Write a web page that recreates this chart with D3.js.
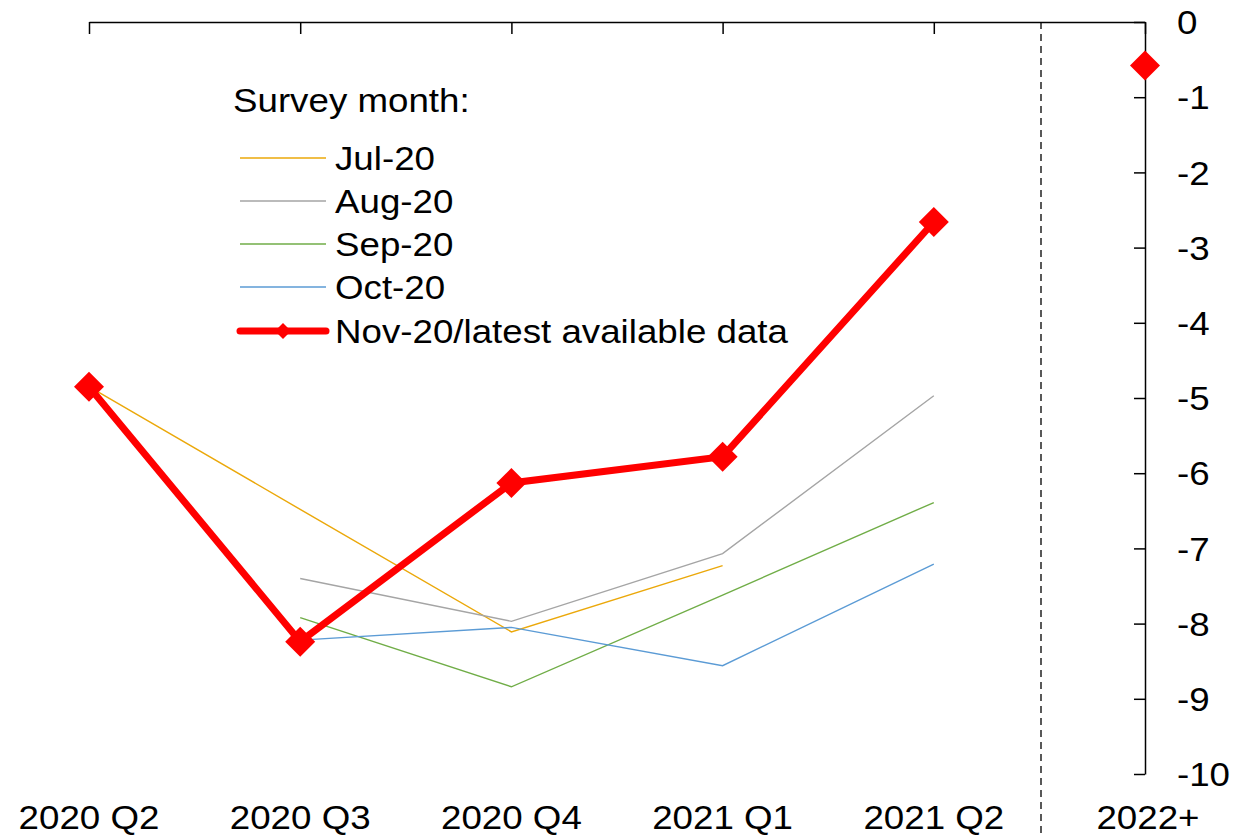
<!DOCTYPE html>
<html><head><meta charset="utf-8">
<script src="https://cdn.jsdelivr.net/npm/d3@7"></script>
<style>
html,body{margin:0;padding:0;background:#fff;}
svg{display:block;font-family:"Liberation Sans",Arial,sans-serif;}
</style></head>
<body>
<svg id="chart" width="1250" height="837"></svg>
<script>
const categories = ["2020 Q2","2020 Q3","2020 Q4","2021 Q1","2021 Q2","2022+"];
const yTicks = [0,-1,-2,-3,-4,-5,-6,-7,-8,-9,-10];
const seriesNames = ["Jul-20","Aug-20","Sep-20","Oct-20","Nov-20/latest available data"];
const jul20 = [-4.85,-6.48,-8.11,-7.23,null,null];
const aug20 = [null,-7.40,-7.97,-7.07,-4.97,null];
const sep20 = [null,-7.92,-8.84,-7.62,-6.39,null];
const oct20 = [null,-8.22,-8.05,-8.56,-7.21,null];
const nov20 = [-4.85,-8.24,-6.13,-5.78,-2.66,null];
const latest2022 = -0.58;
const colors = ["#EBA80A","#A5A5A5","#70AD47","#5B9BD5","#FF0000"];

const SX = 1.13, FS = 32.5;
const svg = d3.select("#chart");
const x = d3.scalePoint().domain(categories).range([89,1145]);
const y = d3.scaleLinear().domain([0,-10]).range([22,774]);

// dashed separator
svg.append("line").attr("x1",1041).attr("x2",1041).attr("y1",y(0)).attr("y2",837)
  .attr("stroke","#000").attr("stroke-width",1.3).attr("stroke-dasharray","7,5");

// top axis (ticks down, no labels)
const topAxis = svg.append("g").attr("transform",`translate(0,${y(0)})`)
  .call(d3.axisBottom(x).tickSize(12).tickSizeOuter(0).tickFormat(""));
topAxis.selectAll("path,line").attr("stroke","#000").attr("stroke-width",1.5);

// right axis (ticks left, labels right)
const rightAxis = svg.append("g").attr("transform",`translate(${x("2022+")},0)`)
  .call(d3.axisRight(y).tickValues(yTicks).tickSize(-11).tickSizeOuter(0).tickPadding(33).tickFormat(d=>String(d)));
rightAxis.selectAll("path,line").attr("stroke","#000").attr("stroke-width",1.5);
rightAxis.selectAll("text").attr("font-size",FS).attr("fill","#000")
  .attr("font-family","Liberation Sans, Arial, sans-serif")
  .attr("x",32/SX).attr("transform",`scale(${SX},1)`).attr("dy","0.36em");

// bottom category labels
const botAxis = svg.append("g").attr("transform","translate(0,800)")
  .call(d3.axisBottom(x).tickSize(0).tickPadding(0));
botAxis.select(".domain").remove();
botAxis.selectAll("text").attr("font-size",FS).attr("fill","#000")
  .attr("font-family","Liberation Sans, Arial, sans-serif")
  .attr("dy","0.88em").attr("transform",`scale(${SX},1)`)
  .attr("x",0);
botAxis.selectAll(".tick").each(function(d){
  const tx = x(d) + (d==="2022+"?3:0);
  d3.select(this).attr("transform",`translate(${tx},0)`);
});

// series lines
const line = d3.line().defined(d=>d.v!==null).x(d=>x(d.c)).y(d=>y(d.v));
const allSeries = [jul20,aug20,sep20,oct20];
allSeries.forEach((vals,i)=>{
  svg.append("path").datum(vals.map((v,j)=>({c:categories[j],v})))
    .attr("d",line).attr("fill","none").attr("stroke",colors[i]).attr("stroke-width",1.4);
});
const nData = nov20.map((v,j)=>({c:categories[j],v}));
svg.append("path").datum(nData).attr("d",line).attr("fill","none")
  .attr("stroke",colors[4]).attr("stroke-width",7).attr("stroke-linejoin","miter");
const diamond = (cx,cy,r)=>`M${cx},${cy-r}L${cx+r},${cy}L${cx},${cy+r}L${cx-r},${cy}Z`;
const pts = nData.filter(d=>d.v!==null).concat([{c:"2022+",v:latest2022}]);
svg.selectAll("path.mk").data(pts).enter().append("path").attr("class","mk")
  .attr("d",d=>diamond(x(d.c),y(d.v),15)).attr("fill",colors[4]);

// legend
const txt = (g,tx,ty,s)=>g.append("text").attr("transform",`translate(${tx},${ty}) scale(${SX},1)`)
  .attr("font-size",FS).attr("fill","#000").text(s);
const leg = svg.append("g");
txt(leg,233,112,"Survey month:");
const rowY = [158,201,244,287,331];
seriesNames.forEach((n,i)=>{
  const last = i===4;
  leg.append("line").attr("x1",240).attr("x2",326).attr("y1",rowY[i]).attr("y2",rowY[i])
    .attr("stroke",colors[i]).attr("stroke-width",last?7:1.4).attr("stroke-linecap",last?"round":"butt");
  if(last) leg.append("path").attr("d",diamond(283,rowY[i],8)).attr("fill",colors[i]);
  txt(leg,335,rowY[i]+12,n);
});
</script>
</body></html>
